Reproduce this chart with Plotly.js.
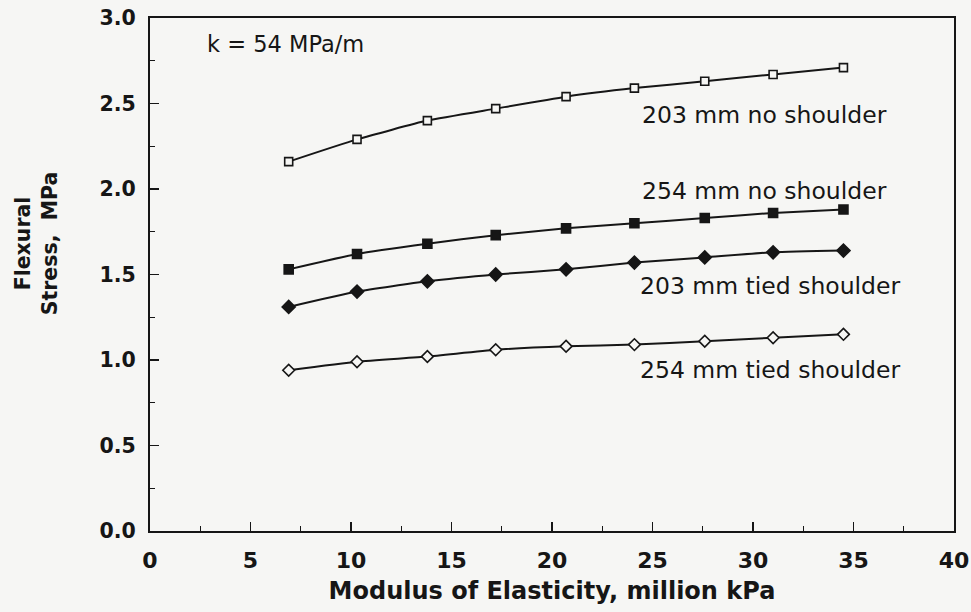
<!DOCTYPE html>
<html>
<head>
<meta charset="utf-8">
<script src="https://cdn.plot.ly/plotly-3.0.1.min.js"></script>
<style>
  html, body { margin: 0; padding: 0; background: #f6f6f4; }
  #chart { width: 971px; height: 612px; }
</style>
</head>
<body>
<div id="chart"></div>
<script>
// Modulus of elasticity, million kPa (1.0 ... 5.0 million psi)
const modulus = [6.9, 10.3, 13.8, 17.2, 20.7, 24.1, 27.6, 31.0, 34.5];

// Flexural stress, MPa
const stress203NoShoulder   = [2.16, 2.29, 2.40, 2.47, 2.54, 2.59, 2.63, 2.67, 2.71];
const stress254NoShoulder   = [1.53, 1.62, 1.68, 1.73, 1.77, 1.80, 1.83, 1.86, 1.88];
const stress203TiedShoulder = [1.31, 1.40, 1.46, 1.50, 1.53, 1.57, 1.60, 1.63, 1.64];
const stress254TiedShoulder = [0.94, 0.99, 1.02, 1.06, 1.08, 1.09, 1.11, 1.13, 1.15];

const seriesNames = ["203 mm no shoulder", "254 mm no shoulder", "203 mm tied shoulder", "254 mm tied shoulder"];
const xTickVals = [0, 5, 10, 15, 20, 25, 30, 35, 40];
const yTickVals = [0, 0.5, 1.0, 1.5, 2.0, 2.5, 3.0];

const FONT = "DejaVu Sans, Liberation Sans, Arial, sans-serif";
const INK = "#161616";
const BG = "#f6f6f4";

function trace(y, name, symbol, fill, size) {
  return {
    x: modulus, y: y, name: name, type: "scatter", mode: "lines+markers",
    line: { color: INK, width: 2, shape: "spline", smoothing: 0.5 },
    marker: { symbol: symbol, size: size, color: fill, line: { color: INK, width: 1.6 } },
    showlegend: false, hoverinfo: "x+y+name"
  };
}

const data = [
  trace(stress203NoShoulder, seriesNames[0], "square", BG, 8),
  trace(stress254NoShoulder, seriesNames[1], "square", INK, 9),
  trace(stress203TiedShoulder, seriesNames[2], "diamond", INK, 10),
  trace(stress254TiedShoulder, seriesNames[3], "diamond", BG, 9)
];

const labelFont = { family: FONT, size: 23.5, color: INK };

const layout = {
  width: 971, height: 612,
  paper_bgcolor: BG, plot_bgcolor: BG,
  margin: { l: 150, r: 17, t: 18, b: 81 },
  font: { family: FONT, color: INK },
  xaxis: {
    range: [0, 40], tickvals: xTickVals, ticktext: xTickVals.map(String),
    ticks: "inside", ticklen: 9, tickwidth: 1.6, tickcolor: INK,
    minor: { ticks: "inside", dtick: 2.5, ticklen: 5, tickwidth: 1.4, tickcolor: INK },
    showline: true, linewidth: 2, linecolor: INK, mirror: true,
    showgrid: false, zeroline: false,
    ticklabelstandoff: 9,
    tickfont: { family: FONT, size: 22, color: INK, weight: "bold" },
    title: { text: "<b>Modulus of Elasticity, million kPa</b>", standoff: 10,
             font: { family: FONT, size: 24, color: INK } }
  },
  yaxis: {
    range: [0, 3], tickvals: yTickVals, ticktext: yTickVals.map(v => v.toFixed(1)),
    ticks: "inside", ticklen: 9, tickwidth: 1.6, tickcolor: INK,
    minor: { ticks: "inside", dtick: 0.25, ticklen: 5, tickwidth: 1.4, tickcolor: INK },
    showline: true, linewidth: 2, linecolor: INK, mirror: true,
    showgrid: false, zeroline: false,
    ticklabelstandoff: 8,
    tickfont: { family: FONT, size: 20.5, color: INK, weight: "bold" }
  },
  annotations: [
    { text: "k = 54 MPa/m", xref: "x", yref: "y", x: 2.75, y: 2.85, xanchor: "left", yanchor: "middle",
      showarrow: false, font: { family: FONT, size: 22.5, color: INK } },
    { text: seriesNames[0], xref: "x", yref: "y", x: 24.4, y: 2.43, xanchor: "left", yanchor: "middle",
      showarrow: false, font: labelFont },
    { text: seriesNames[1], xref: "x", yref: "y", x: 24.4, y: 1.99, xanchor: "left", yanchor: "middle",
      showarrow: false, font: labelFont },
    { text: seriesNames[2], xref: "x", yref: "y", x: 24.3, y: 1.43, xanchor: "left", yanchor: "middle",
      showarrow: false, font: labelFont },
    { text: seriesNames[3], xref: "x", yref: "y", x: 24.3, y: 0.94, xanchor: "left", yanchor: "middle",
      showarrow: false, font: labelFont },
    { text: "<b>Flexural</b><br><b>Stress,  MPa</b>", xref: "paper", yref: "paper",
      x: -0.141, y: 0.56, xanchor: "center", yanchor: "middle", textangle: -90,
      showarrow: false, font: { family: FONT, size: 20.5, color: INK } }
  ]
};

Plotly.newPlot("chart", data, layout, { staticPlot: true, displayModeBar: false });
</script>
</body>
</html>
